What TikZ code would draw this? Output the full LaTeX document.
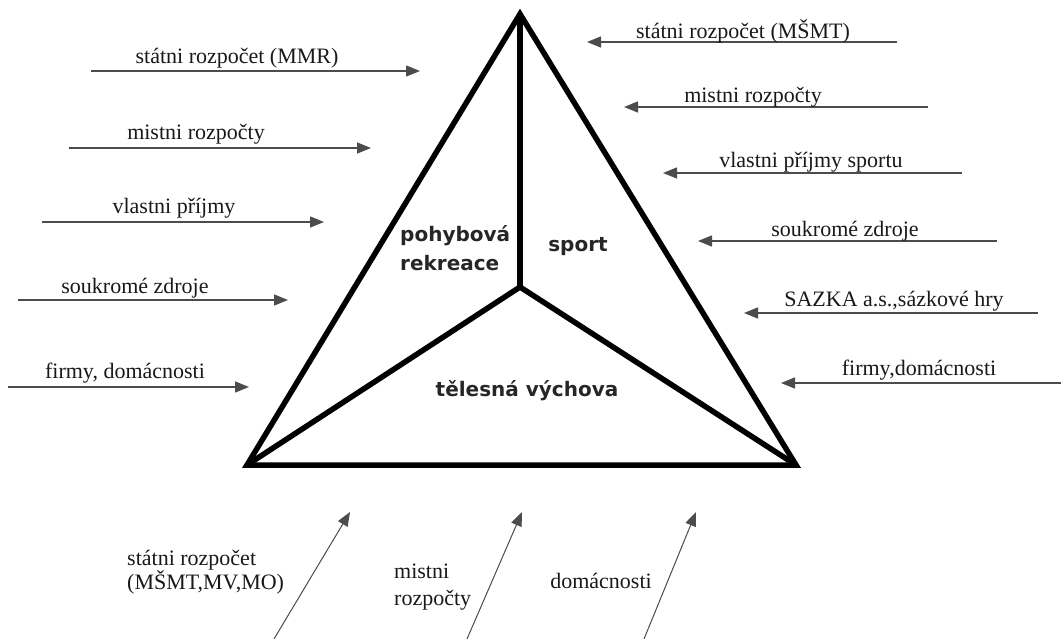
\documentclass[tikz,border=0pt]{standalone}
\usepackage{fontspec}
\setmainfont{Liberation Serif}
\newfontfamily\boldsans{DejaVu Sans}
\usetikzlibrary{arrows.meta}
\tikzset{
  edgeline/.style={line width=5.5pt, line join=miter, line cap=butt, black},
  flow/.style={line width=1.4pt, black!70, -{Triangle[length=14pt,width=11pt]}},
  lbl/.style={inner sep=0pt, font=\fontsize{22}{23}\selectfont, text=black!90},
  area/.style={inner sep=0pt, font=\boldsans\bfseries\fontsize{20}{29}\selectfont, text=black!85}
}
\begin{document}
\begin{tikzpicture}[x=1pt,y=-1pt]
\useasboundingbox (0,0) rectangle (1061,639);
\fill[white] (0,0) rectangle (1061,639);
% triangle
\coordinate (T) at (520,14);
\coordinate (L) at (247,465);
\coordinate (R) at (796,465);
\coordinate (C) at (520,287);
\draw[edgeline] (T) -- (R) -- (L) -- cycle;
\draw[edgeline] (T) -- (C);
\draw[edgeline] (L) -- (C) -- (R);
% area labels
\node[area, anchor=west, align=left] (pr) at (400,248) {pohybová\\rekreace};
\node[area] (sp) at (578,247) {sport};
\node[area] (tv) at (527,391) {tělesná výchova};
% left arrows
\coordinate (la1) at (91,71);  \coordinate (lb1) at (420,71);
\coordinate (la2) at (69,148); \coordinate (lb2) at (371,148);
\coordinate (la3) at (42,222); \coordinate (lb3) at (324,222);
\coordinate (la4) at (18,300); \coordinate (lb4) at (288,300);
\coordinate (la5) at (8,387);  \coordinate (lb5) at (249,387);
\draw[flow] (la1) -- (lb1);
\draw[flow] (la2) -- (lb2);
\draw[flow] (la3) -- (lb3);
\draw[flow] (la4) -- (lb4);
\draw[flow] (la5) -- (lb5);
\node[lbl] (l1) at (237,58) {státni rozpočet (MMR)};
\node[lbl] (l2) at (196,134) {mistni rozpočty};
\node[lbl] (l3) at (174,208) {vlastni příjmy};
\node[lbl] (l4) at (135,288) {soukromé zdroje};
\node[lbl] (l5) at (125,373) {firmy, domácnosti};
% right arrows
\coordinate (ra1) at (897,42);   \coordinate (rb1) at (587,42);
\coordinate (ra2) at (928,107);  \coordinate (rb2) at (624,107);
\coordinate (ra3) at (962,173);  \coordinate (rb3) at (663,173);
\coordinate (ra4) at (997,241);  \coordinate (rb4) at (698,241);
\coordinate (ra5) at (1038,313); \coordinate (rb5) at (744,313);
\coordinate (ra6) at (1061,383); \coordinate (rb6) at (781,383);
\draw[flow] (ra1) -- (rb1);
\draw[flow] (ra2) -- (rb2);
\draw[flow] (ra3) -- (rb3);
\draw[flow] (ra4) -- (rb4);
\draw[flow] (ra5) -- (rb5);
\draw[flow] (ra6) -- (rb6);
\node[lbl] (r1) at (743,31) {státni rozpočet (MŠMT)};
\node[lbl] (r2) at (753,97) {mistni rozpočty};
\node[lbl] (r3) at (811,162) {vlastni příjmy sportu};
\node[lbl] (r4) at (845,231) {soukromé zdroje};
\node[lbl] (r5) at (894,301) {SAZKA a.s.,sázkové hry};
\node[lbl] (r6) at (919,370) {firmy,domácnosti};
% bottom arrows
\coordinate (ba1) at (274,639); \coordinate (bb1) at (350,512);
\coordinate (ba2) at (467,639); \coordinate (bb2) at (522,512);
\coordinate (ba3) at (644,639); \coordinate (bb3) at (696,512);
\draw[flow, line width=1pt] (ba1) -- (bb1);
\draw[flow, line width=1pt] (ba2) -- (bb2);
\draw[flow, line width=1pt] (ba3) -- (bb3);
\node[lbl, anchor=west, align=left] (b1) at (127,572) {státni rozpočet\\(MŠMT,MV,MO)};
\node[lbl, anchor=west, align=left, font=\fontsize{22}{27}\selectfont] (b2) at (394,587) {mistni\\rozpočty};
\node[lbl] (b3) at (601,581) {domácnosti};
\end{tikzpicture}
\end{document}
